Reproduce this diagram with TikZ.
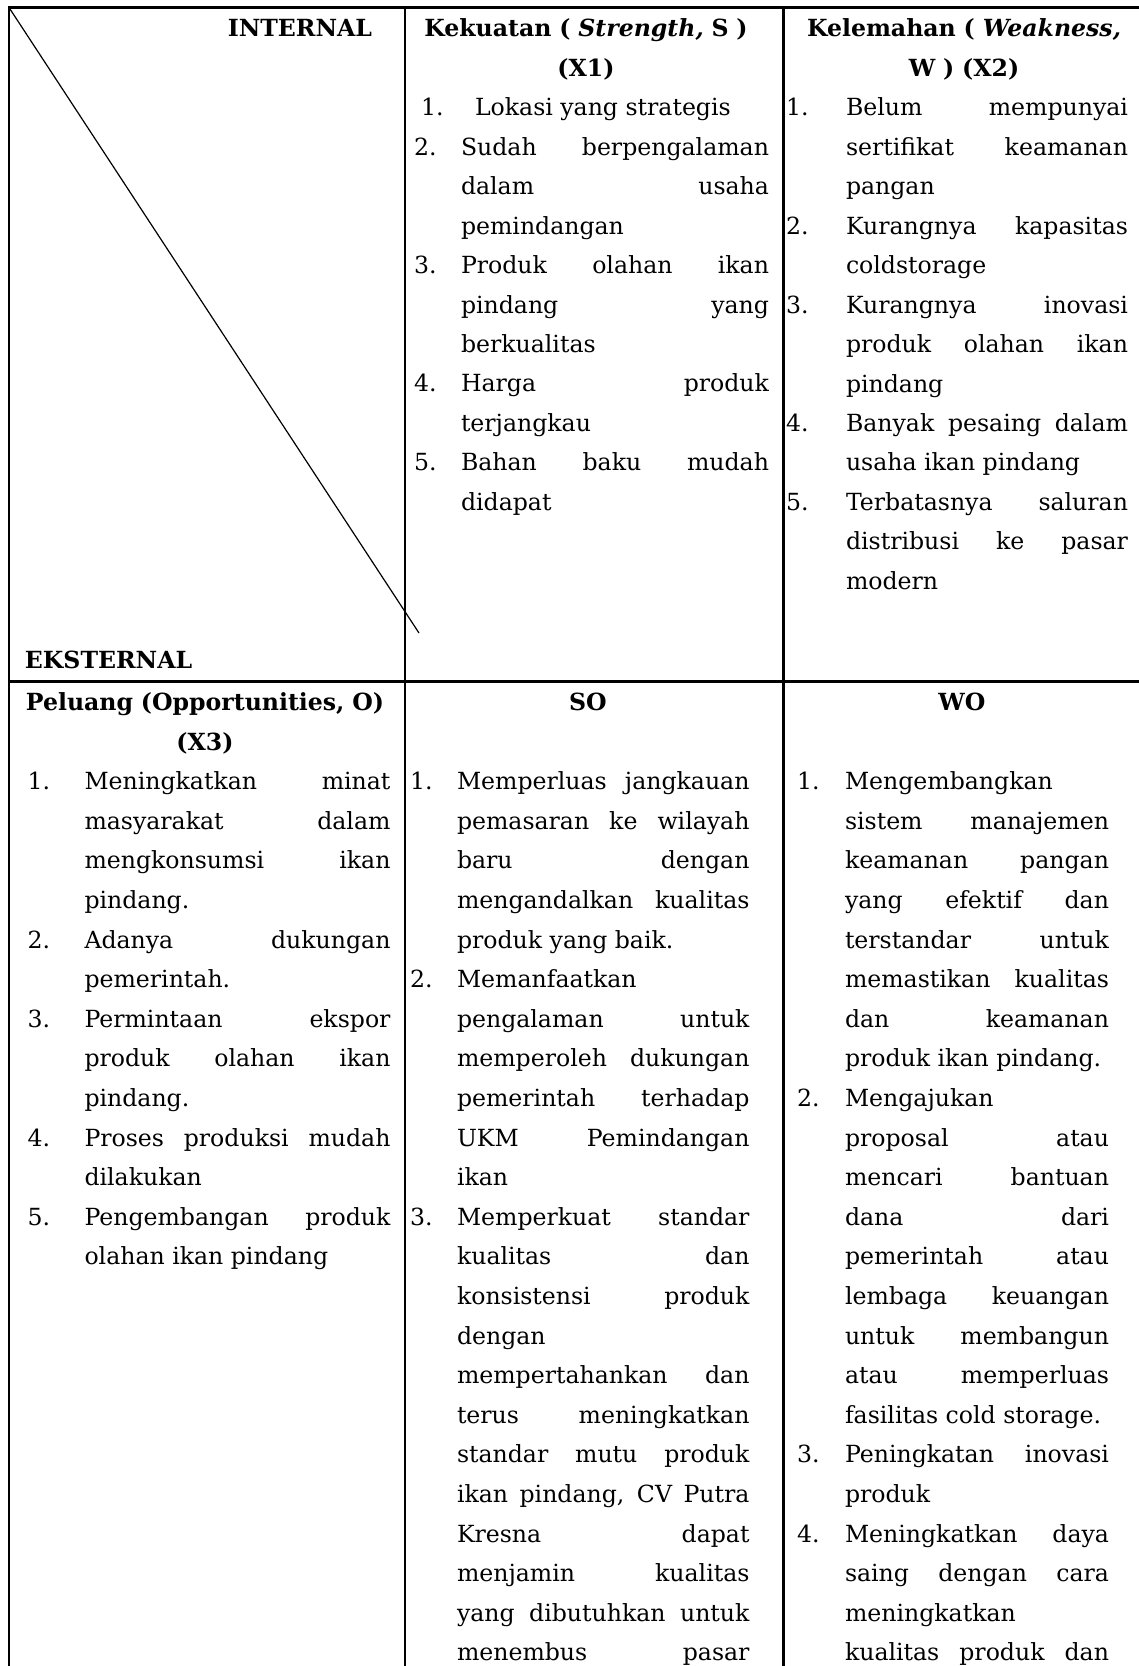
\documentclass[tikz,border=0pt]{standalone}
\usepackage{fontspec}
\setmainfont{DejaVu Serif}
\newcommand{\tblfont}{\fontsize{11.8}{19.8}\selectfont}
% a last line that runs on into the next page is set full width
\newcommand{\fullline}[1]{\makebox[\linewidth][s]{#1}}
% justified lines break only where \linebreak stands
\hyphenpenalty=10000
\tolerance=10000
\hbadness=10000

\begin{document}
\begin{tikzpicture}[%
    x=0.5pt, y=-0.5pt,          % one unit is one pixel of the page
    line join=miter,
    ]
\useasboundingbox (0,0) rectangle (1139,1666);
% -------------------------------------------------
% Cell and rule styles
\tikzset{
  cell/.style={inner sep=0pt, outer sep=0pt, font=\tblfont},
  cellhead/.style={cell, font=\tblfont\bfseries, align=center, anchor=base},
  listitem/.style={cell, align=justify, anchor=base west},
  num/.style={cell, anchor=base west},
  tblrule/.style={draw, line width=1.35pt},
  diagrule/.style={draw, line width=0.6pt}
}
% -------------------------------------------------
% Table rules
\coordinate (tl) at (9,7.5);
\draw [tblrule] (1139,7.5) -- (tl) -- (9,1666);
\draw [tblrule] (405,7.5) -- (405,1666);
\draw [tblrule] (783.5,7.5) -- (783.5,1666);
\draw [tblrule] (9,681.5) -- (1139,681.5);
\draw [diagrule] (tl) -- (419,633);

% -------------------------------------------------
% Headings
\node [cellhead, anchor=base east] (internal) at (372,36.8) {INTERNAL};
\node [cellhead, anchor=base west] (eksternal) at (25,668) {EKSTERNAL};
\node [cellhead, text width=184pt] (hs) at (586,36.8)
  {Kekuatan ( \textit{Strength,} S )\\(X1)};
\node [cellhead, text width=172pt] (hw) at (964,36.8)
  {Kelemahan ( \textit{Weakness,}\\W ) (X2)};
\node [cellhead, text width=192pt] (ho) at (205,710.4)
  {Peluang (Opportunities, O)\\(X3)};
\node [cellhead] (hso) at (588,710.4) {SO};
\node [cellhead] (hwo) at (962,710.4) {WO};

% -------------------------------------------------
% Strength
\node [listitem, text width=147pt] (s1) at (475,115.7) {Lokasi yang strategis};
\node [listitem, text width=154pt] (s2) at (461,155.2)
  {Sudah berpengalaman\linebreak dalam usaha\linebreak pemindangan};
\node [listitem, text width=154pt] (s3) at (461,273.5)
  {Produk olahan ikan\linebreak pindang yang\linebreak berkualitas};
\node [listitem, text width=154pt] (s4) at (461,391.9)
  {Harga produk\linebreak terjangkau};
\node [listitem, text width=154pt] (s5) at (461,470.8)
  {Bahan baku mudah\linebreak didapat};
\node [num] (sn1) at ([xshift=-27pt]s1.base west) {1.};
\foreach \i in {2,...,5}
  \node [num] (sn\i) at ([xshift=-23.5pt]s\i.base west) {\i.};

% Weakness
\node [listitem, text width=141pt] (w1) at (846,115.7)
  {Belum mempunyai\linebreak sertifikat keamanan\linebreak pangan};
\node [listitem, text width=141pt] (w2) at (846,234.1)
  {Kurangnya kapasitas\linebreak coldstorage};
\node [listitem, text width=141pt] (w3) at (846,313.0)
  {Kurangnya inovasi\linebreak produk olahan ikan\linebreak pindang};
\node [listitem, text width=141pt] (w4) at (846,431.3)
  {Banyak pesaing dalam\linebreak usaha ikan pindang};
\node [listitem, text width=141pt] (w5) at (846,510.2)
  {Terbatasnya saluran\linebreak distribusi ke pasar\linebreak modern};
\foreach \i in {1,...,5}
  \node [num] (wn\i) at ([xshift=-30pt]w\i.base west) {\i.};

% Opportunities
\node [listitem, text width=153pt] (o1) at (84.5,789.6)
  {Meningkatkan minat\linebreak masyarakat dalam\linebreak mengkonsumsi ikan\linebreak pindang.};
\node [listitem, text width=153pt] (o2) at (84.5,948.0)
  {Adanya dukungan\linebreak pemerintah.};
\node [listitem, text width=153pt] (o3) at (84.5,1027.2)
  {Permintaan ekspor\linebreak produk olahan ikan\linebreak pindang.};
\node [listitem, text width=153pt] (o4) at (84.5,1146.0)
  {Proses produksi mudah\linebreak dilakukan};
\node [listitem, text width=153pt] (o5) at (84.5,1225.2)
  {Pengembangan produk\linebreak olahan ikan pindang};
\foreach \i in {1,...,5}
  \node [num] (on\i) at ([xshift=-28.5pt]o\i.base west) {\i.};

% SO strategies
\node [listitem, text width=146.25pt] (so1) at (457,789.6)
  {Memperluas jangkauan\linebreak pemasaran ke wilayah\linebreak baru dengan\linebreak
   mengandalkan kualitas\linebreak produk yang baik.};
\node [listitem, text width=146.25pt] (so2) at (457,987.6)
  {Memanfaatkan\linebreak pengalaman untuk\linebreak memperoleh dukungan\linebreak
   pemerintah terhadap\linebreak UKM Pemindangan\linebreak ikan};
\node [listitem, text width=146.25pt] (so3) at (457,1225.2)
  {Memperkuat standar\linebreak kualitas dan\linebreak
   konsistensi produk\linebreak dengan\linebreak mempertahankan dan\linebreak
   terus meningkatkan\linebreak standar mutu produk\linebreak
   ikan pindang, CV Putra\linebreak Kresna dapat\linebreak menjamin kualitas\linebreak
   yang dibutuhkan untuk\linebreak \fullline{menembus pasar}};
\foreach \i in {1,...,3}
  \node [num] (son\i) at ([xshift=-23.5pt]so\i.base west) {\i.};

% WO strategies
\node [listitem, text width=132pt] (wo1) at (845,789.6)
  {Mengembangkan\linebreak sistem manajemen\linebreak keamanan pangan\linebreak
   yang efektif dan\linebreak terstandar untuk\linebreak memastikan kualitas\linebreak
   dan keamanan\linebreak produk ikan pindang.};
\node [listitem, text width=132pt] (wo2) at (845,1106.4)
  {Mengajukan\linebreak proposal atau\linebreak mencari bantuan\linebreak dana dari\linebreak
   pemerintah atau\linebreak lembaga keuangan\linebreak untuk membangun\linebreak
   atau memperluas\linebreak fasilitas cold storage.};
\node [listitem, text width=132pt] (wo3) at (845,1462.8)
  {Peningkatan inovasi\linebreak produk};
\node [listitem, text width=132pt] (wo4) at (845,1542.0)
  {Meningkatkan daya\linebreak saing dengan cara\linebreak
   meningkatkan\linebreak \fullline{kualitas produk dan}};
\foreach \i in {1,...,4}
  \node [num] (won\i) at ([xshift=-24pt]wo\i.base west) {\i.};

% -------------------------------------------------
\end{tikzpicture}
\end{document}
